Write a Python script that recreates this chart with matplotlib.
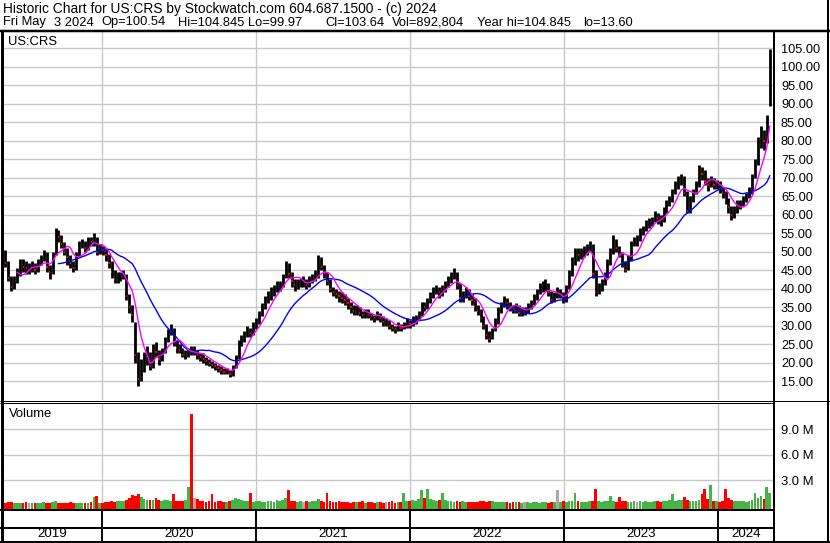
import numpy as np
import pandas as pd
import matplotlib
matplotlib.use("Agg")
import matplotlib.pyplot as plt
import matplotlib.dates as mdates
from matplotlib.lines import Line2D

# weekly bars, US:CRS, May 2019 .. May 3 2024
close = [50, 47, 43, 40.5, 42, 44, 47, 46, 45.5, 45.5,
         46.5, 45, 47, 48, 49.5, 46, 44.5, 49, 55.5, 54,
         52, 50, 48.5, 47, 45.5, 49, 52, 52.5, 51, 53,
         52.5, 54, 50, 51, 50.5, 49, 47, 44.5, 42.5, 43,
         43.5, 44, 38, 35, 33, 22, 15.5, 19, 21, 22.5,
         19, 24, 23, 21, 23, 26, 28, 29.5, 25.5, 24,
         23.5, 22, 22.5, 23.5, 23, 23, 22, 21.5, 21, 20.5,
         20, 19.5, 19, 18.5, 18, 17.5, 17.8, 16.8, 19, 21.5,
         25, 26.5, 27.5, 29, 28, 30, 31, 33, 35, 37,
         38, 39, 40, 40.5, 41, 43, 47, 44, 42, 41,
         41.5, 42, 42, 41, 42.5, 43, 43.5, 48, 46, 44,
         42, 40, 39, 38.5, 38, 37.5, 37, 36, 35, 34,
         34.5, 33.5, 33, 33.5, 33, 32.5, 32, 33, 32, 31,
         31, 30, 29.5, 29, 30, 29.5, 30, 31, 30.5, 31.5,
         32, 33, 35.5, 35, 36.5, 38, 39.5, 40, 39, 40,
         41, 42.5, 43, 44, 41, 37.5, 38, 39.5, 38, 37,
         35, 34, 32, 30, 27.5, 26.5, 29, 31, 34, 35.5,
         37, 36, 35, 34.5, 35, 33.5, 34, 34, 35, 36,
         38, 39, 40, 40.5, 41, 39, 37, 38, 38, 38.5,
         37, 40, 44, 47, 50, 49, 49.5, 50, 51, 52,
         44, 39, 40, 41.5, 43, 47, 50, 53.5, 51, 49.5,
         47, 45, 48, 52, 53, 53, 55.5, 56, 57.5, 58,
         58.5, 60, 59, 58.5, 61, 63, 64, 66, 68, 69,
         70, 66, 61, 64, 66, 68, 72, 71, 69, 68,
         69, 68, 68.5, 67, 66, 64, 62, 60, 61, 62.5,
         63, 64, 65, 66, 70, 74, 80, 81, 80, 85,
         103.64]

high = [51.5, 50.5, 47.5, 43.5, 43.5, 45.5, 48, 48, 47.5, 47,
        47.5, 47, 48, 49, 50.5, 50, 46.5, 50, 56.5, 56,
        54.5, 52.5, 51, 49, 47.5, 50, 53, 53.5, 53, 54,
        54, 55, 54, 52, 51.5, 51, 49.5, 47.5, 45, 44.5,
        44.5, 45, 44, 38.5, 35.5, 31, 23, 21, 23, 24.5,
        23, 25, 25.5, 23.5, 24, 27, 29, 30.5, 29.5, 26,
        25, 24, 23.5, 24, 24.5, 24.5, 23.5, 22.5, 22.5, 21.5,
        21, 20.5, 20, 19.5, 19, 18.5, 18.5, 18, 19.5, 22,
        26, 27.5, 28.5, 30, 29.5, 31, 32, 34, 36, 38,
        39.5, 40.5, 41, 42, 42, 44, 47.5, 47, 44.5, 42.5,
        42.5, 43, 43.5, 42.5, 43.5, 44, 45, 49, 48.5, 46.5,
        44.5, 42.5, 40.5, 40, 39.5, 39, 38.5, 37.5, 36.5, 35.5,
        35.5, 35, 34, 34.5, 34.5, 33.5, 33, 34, 33.5, 32.5,
        32, 31.5, 30.5, 30, 31, 30.5, 31, 32, 31.5, 32.5,
        33, 34, 36.5, 36.5, 37.5, 39, 40.5, 41, 40.5, 41,
        42, 43.5, 44.5, 45.5, 44.5, 41.5, 39.5, 40.5, 40, 38.5,
        37.5, 35.5, 34.5, 32.5, 30.5, 28.5, 29.5, 32, 35, 36.5,
        38, 37.5, 36.5, 35.5, 36, 35.5, 35, 35, 36, 37,
        38.5, 40, 41.5, 42, 42.5, 41.5, 39.5, 39, 40.5, 40,
        39, 41, 45, 48.5, 51, 51, 51, 51.5, 52, 53,
        52, 45, 41.5, 42.5, 44.5, 48, 51, 54.5, 53.5, 51.5,
        50, 47.5, 49, 53, 54, 54.5, 56.5, 57, 58.5, 59,
        59.5, 61, 60.5, 60, 62, 64, 65, 67, 69, 70.5,
        71, 70.5, 66.5, 65, 67, 69, 73.5, 73, 72, 70,
        70.5, 70, 69.5, 69, 67.5, 66.5, 64.5, 62.5, 62.5, 64,
        64, 65, 66, 67.5, 71, 75, 81, 84, 83, 87,
        104.845]

low = [48, 46, 42, 39.5, 40, 41.5, 43.5, 44.5, 44, 44,
       44.5, 44, 44.5, 46.5, 47.5, 44.5, 42.5, 44, 49, 52.5,
       51, 49, 46.5, 45.5, 44.5, 45, 48.5, 51, 50, 50.5,
       51.5, 51.5, 49, 49.5, 49, 47.5, 45.5, 43, 41.5, 41.5,
       42, 42.5, 37, 33.5, 31, 20, 13.6, 15, 17.5, 19.5,
       18, 18.5, 21.5, 19.5, 20.5, 22.5, 25.5, 27.5, 24.5, 22.5,
       22.5, 21.5, 21, 21.5, 22, 22, 21, 20.5, 20, 19.5,
       19, 18.5, 18, 17.5, 17, 17, 16.8, 16, 16.5, 18.5,
       21, 24.5, 25.5, 27, 27, 27.5, 29, 30.5, 32.5, 34.5,
       36, 37, 38, 39, 39.5, 40.5, 43, 43, 40.5, 39.5,
       40, 40.5, 40.5, 40, 40.5, 41.5, 42, 43, 45, 43,
       41, 39, 38, 37.5, 36.5, 36, 35.5, 34.5, 33.5, 33,
       33, 32.5, 32, 32, 32, 31.5, 31, 31.5, 31, 30,
       30, 29, 28.5, 28, 28.5, 28.5, 29, 29.5, 29.5, 30,
       30.5, 31.5, 32.5, 34, 34.5, 36, 37.5, 38.5, 37.5, 38,
       39, 40.5, 41.5, 42.5, 40, 36.5, 36.5, 37.5, 37, 35.5,
       34, 33, 31, 29, 26.5, 25.5, 26.5, 28.5, 30.5, 33.5,
       35, 34.5, 34, 33.5, 33.5, 32.5, 32.5, 33, 33.5, 34.5,
       35.5, 37, 38.5, 39, 39.5, 38, 36, 36.5, 37.5, 37.5,
       36, 36.5, 40, 43.5, 46.5, 47.5, 48, 48.5, 49, 50,
       43, 38, 38.5, 39.5, 41, 43, 46.5, 49.5, 50, 48.5,
       46, 44.5, 45, 47.5, 51.5, 51.5, 53, 54.5, 55.5, 56.5,
       57, 58, 57.5, 57, 58, 60.5, 62.5, 63.5, 65.5, 67,
       68, 65, 60.5, 60.5, 63.5, 65.5, 67.5, 69.5, 68, 66.5,
       67.5, 67, 67, 66, 64.5, 63, 60.5, 58.5, 59, 60.5,
       61.5, 62.5, 63.5, 64.5, 65.5, 70, 73.5, 78, 77.5, 79.5,
       89.5]

# volume, millions
volume = [.35, .3, .45, .5, .4, .35, .3, .4, .45, .35,
          .4, .3, .35, .4, .5, .35, .3, .45, .55, .4,
          .35, .4, .3, .45, .4, .35, .3, .4, .35, .3,
          .45, 1.0, 1.2, .4, .35, .45, .5, .55, .5, .6,
          .55, .6, .7, .9, 1.3, 1.2, 1.4, 1.0, .8, .7,
          .65, .75, .9, .7, .6, .75, .7, .6, 1.4, .55,
          .6, .55, .65, 2.2, 10.8, .9, .8, .6, .55, .5,
          .6, 1.4, .5, .55, .6, .5, .45, .6, .75, .9,
          .8, .7, .6, .55, 1.5, .5, .55, .6, .45, .5,
          .55, .6, .5, .7, .6, .75, .9, 1.9, .6, .55,
          .5, .55, .45, .6, .5, .55, .6, .8, .6, .5,
          1.5, .6, .5, .45, .55, .5, .45, .5, .4, .45,
          .5, .45, .55, .4, .45, .5, .4, .45, .5, .4,
          .45, .5, .55, .4, .45, .5, 1.5, .55, .6, .7,
          .6, .8, 1.9, .9, 2.0, .8, .7, .6, .65, 1.5,
          .7, .6, .55, .5, .6, .5, .55, .45, .5, .45,
          .5, .45, .55, .6, .5, .55, .6, .5, .45, .5,
          .45, .5, .4, .45, .5, .45, .4, .5, .45, .4,
          .45, .5, .4, .45, .5, .4, .45, .5, 1.9, .5,
          .55, .5, .6, .55, 1.5, .6, .5, .45, .5, .55,
          .6, 2.0, .55, .5, .6, .55, 1.2, .6, .5, 1.1,
          .55, .6, .5, .45, .55, .5, .6, .5, .55, .45,
          .5, .6, .55, .5, .6, .55, .65, 1.4, .6, .7,
          .65, 1.1, .7, .6, .55, .6, .65, 1.4, 2.0, .8,
          2.4, .6, .55, .5, .6, 2.0, .9, .7, .6, .55,
          .6, .55, .5, .6, .65, 1.5, .9, 1.2, .8, 2.2,
          1.5]

years = [2019, 2020, 2021, 2022, 2023, 2024]
price_ticks = list(range(15, 110, 5))
vol_ticks = [3, 6, 9]

title1 = "Historic Chart for US:CRS by Stockwatch.com 604.687.1500 - (c) 2024"
info = [("Fri May", 3), ("3 2024", 54), ("Op=100.54", 101), ("Hi=104.845", 178),
        ("Lo=99.97", 248), ("Cl=103.64", 325), ("Vol=892,804", 392),
        ("Year hi=104.845", 477), ("lo=13.60", 583)]

plt.rcParams['font.family'] = ['Liberation Sans', 'DejaVu Sans']
W, H = 830, 543
fig = plt.figure(figsize=(8.3, 5.43), dpi=100)


def box(x0, y0, x1, y1):
    return [x0 / W, 1 - y1 / H, (x1 - x0) / W, (y1 - y0) / H]


def fline(x0, y0, x1, y1, lw):
    fig.add_artist(Line2D([x0 / W, x1 / W], [1 - y0 / H, 1 - y1 / H],
                          color='black', lw=lw * 0.72, transform=fig.transFigure,
                          solid_capstyle='butt'))


dates = pd.date_range(end='2024-05-03', periods=len(close), freq='7D')
x = mdates.date2num(dates)
close = np.array(close)
high = np.array(high)
low = np.array(low)
volume = np.array(volume)
prev = np.r_[close[0], close[:-1]]

xl = (mdates.date2num(pd.Timestamp('2019-05-09')), mdates.date2num(pd.Timestamp('2024-05-13')))
ybounds = [mdates.date2num(pd.Timestamp(f'{y}-01-01')) for y in years[1:]]
grid_c = '#c8c8c8'

# price panel
ax = fig.add_axes(box(2, 31, 774, 400))
ax.set_xlim(*xl)
ax.set_ylim(9.9, 109.7)
for b in ybounds:
    ax.axvline(b, color=grid_c, lw=1, zorder=0)
for t in price_ticks:
    ax.axhline(t, color=grid_c, lw=1, zorder=0)
ax.vlines(x, low, high, color='black', lw=2.0, zorder=2)
dn = close < prev
ax.hlines(close[dn], x[dn] - 1, x[dn] + 2, color='red', lw=1.4, zorder=3)
ma_s = pd.Series(close).rolling(6).mean()
ma_l = pd.Series(close).rolling(20).mean()
ax.plot(x, ma_l, color='#0000ff', lw=1, zorder=4)
ax.plot(x, ma_s, color='#ff00ff', lw=1, zorder=4)
ax.set_xticks([])
ax.yaxis.tick_right()
ax.set_yticks(price_ticks)
ax.set_yticklabels([f"{t:.2f}" for t in price_ticks])
ax.tick_params(axis='y', length=0, pad=5, labelsize=9.2)
for s in ax.spines.values():
    s.set_visible(False)
ax.text(6 / 772, 1 - 11 / 369, "US:CRS", transform=ax.transAxes, fontsize=9.4,
        va='center', ha='left')

# volume panel
axv = fig.add_axes(box(2, 403, 774, 509))
axv.set_xlim(*xl)
axv.set_ylim(-0.35, 12.05)
for b in ybounds:
    axv.axvline(b, color=grid_c, lw=1, zorder=0)
for t in vol_ticks:
    axv.axhline(t, color=grid_c, lw=1, zorder=0)
vcol = np.where(close > prev, '#44b444', np.where(close < prev, '#ff0000', '#a8a8a8'))
axv.bar(x, volume + 0.35, bottom=-0.35, width=6.5, color=vcol, lw=0, zorder=2)
axv.set_xticks([])
axv.yaxis.tick_right()
axv.set_yticks(vol_ticks)
axv.set_yticklabels([f"{t:.1f} M" for t in vol_ticks])
axv.tick_params(axis='y', length=0, pad=5, labelsize=9.4)
for s in axv.spines.values():
    s.set_visible(False)
axv.text(7 / 772, 1 - 11 / 106, "Volume", transform=axv.transAxes, fontsize=9.4,
         va='center', ha='left')

# date band
axd = fig.add_axes(box(2, 510, 774, 541))
axd.set_xlim(*xl)
axd.set_ylim(0, 1)
axd.axis('off')
edges = [xl[0]] + ybounds + [xl[1]]
for b in ybounds:
    axd.axvline(b, color='black', lw=1.4)
for i, yr in enumerate(years):
    axd.text((edges[i] + edges[i + 1]) / 2, 0.24, str(yr), ha='center', va='center',
             fontsize=9.6)

# frame lines
fline(1.5, 30, 1.5, 542, 3)
fline(0, 30.5, 830, 30.5, 2.5)
fline(828, 0, 828, 542, 2)
fline(774, 30, 774, 542, 2)
fline(0, 400.5, 830, 400.5, 1)
fline(0, 402.5, 774, 402.5, 1)
fline(0, 510, 774, 510, 2)
fline(0, 528, 774, 528, 2)
fline(0, 541.5, 830, 541.5, 2)

# header text
fig.text(3 / W, 1 - 9 / H, title1, fontsize=9.9, va='center', ha='left')
for s, px in info:
    fig.text(px / W, 1 - 22.5 / H, s, fontsize=9.3, va='center', ha='left')

fig.savefig('out.png', dpi=100)
